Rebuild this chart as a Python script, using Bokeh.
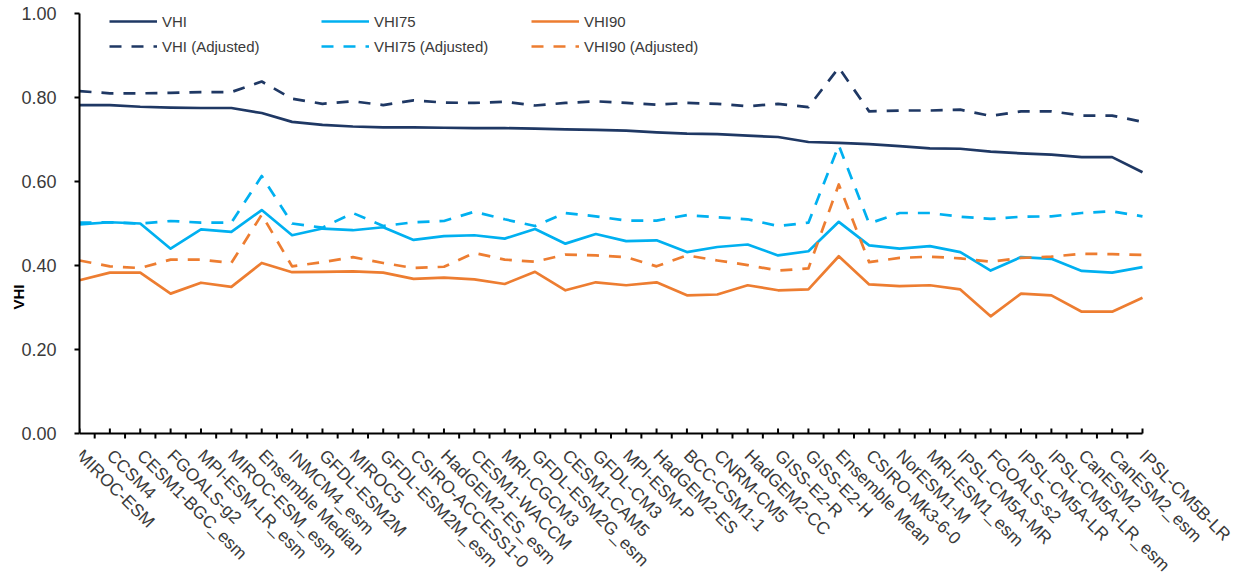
from bokeh.plotting import figure
from bokeh.models import (Range1d, FixedTicker, NumeralTickFormatter, Legend,
                          LegendItem, ColumnDataSource)
from bokeh.core.properties import value
from bokeh.embed import file_html
from bokeh.resources import INLINE
import math

models = ["MIROC-ESM", "CCSM4", "CESM1-BGC_esm", "FGOALS-g2", "MPI-ESM-LR_esm",
          "MIROC-ESM_esm", "Ensemble Median", "INMCM4_esm", "GFDL-ESM2M", "MIROC5",
          "GFDL-ESM2M_esm", "CSIRO-ACCESS1-0", "HadGEM2-ES_esm", "CESM1-WACCM",
          "MRI-CGCM3", "GFDL-ESM2G_esm", "CESM1-CAM5", "GFDL-CM3", "MPI-ESM-P",
          "HadGEM2-ES", "BCC-CSM1-1", "CNRM-CM5", "HadGEM2-CC", "GISS-E2-R",
          "GISS-E2-H", "Ensemble Mean", "CSIRO-Mk3-6-0", "NorESM1-M", "MRI-ESM1_esm",
          "IPSL-CM5A-MR", "FGOALS-s2", "IPSL-CM5A-LR", "IPSL-CM5A-LR_esm", "CanESM2",
          "CanESM2_esm", "IPSL-CM5B-LR"]

vhi = [0.782, 0.782, 0.778, 0.776, 0.775, 0.775, 0.763, 0.742, 0.735, 0.731,
       0.729, 0.729, 0.728, 0.727, 0.727, 0.726, 0.724, 0.723, 0.721, 0.717,
       0.714, 0.713, 0.709, 0.706, 0.694, 0.692, 0.689, 0.684, 0.679, 0.678,
       0.671, 0.667, 0.664, 0.658, 0.658, 0.622]
vhi_adj = [0.815, 0.810, 0.810, 0.811, 0.813, 0.813, 0.838, 0.797, 0.785, 0.791,
           0.782, 0.793, 0.788, 0.787, 0.790, 0.781, 0.787, 0.791, 0.787, 0.783,
           0.787, 0.785, 0.779, 0.785, 0.777, 0.871, 0.767, 0.769, 0.769, 0.771,
           0.756, 0.767, 0.767, 0.757, 0.757, 0.742]
vhi75 = [0.498, 0.503, 0.500, 0.440, 0.486, 0.480, 0.532, 0.472, 0.488, 0.484,
         0.491, 0.461, 0.470, 0.472, 0.464, 0.487, 0.452, 0.475, 0.458, 0.460,
         0.432, 0.444, 0.450, 0.424, 0.434, 0.504, 0.448, 0.440, 0.446, 0.432,
         0.388, 0.420, 0.416, 0.387, 0.383, 0.396]
vhi75_adj = [0.502, 0.503, 0.500, 0.506, 0.502, 0.502, 0.613, 0.500, 0.490, 0.525,
             0.494, 0.503, 0.506, 0.528, 0.510, 0.494, 0.525, 0.517, 0.507, 0.507,
             0.520, 0.515, 0.510, 0.494, 0.502, 0.686, 0.500, 0.525, 0.525, 0.516,
             0.511, 0.516, 0.517, 0.525, 0.529, 0.517]
vhi90 = [0.365, 0.383, 0.383, 0.333, 0.359, 0.349, 0.406, 0.384, 0.385, 0.386,
         0.383, 0.368, 0.371, 0.367, 0.356, 0.385, 0.341, 0.360, 0.353, 0.360,
         0.329, 0.331, 0.353, 0.341, 0.343, 0.422, 0.355, 0.351, 0.353, 0.343,
         0.279, 0.333, 0.329, 0.290, 0.290, 0.323]
vhi90_adj = [0.412, 0.398, 0.394, 0.414, 0.414, 0.406, 0.521, 0.398, 0.408, 0.420,
             0.406, 0.394, 0.397, 0.430, 0.414, 0.409, 0.426, 0.424, 0.420, 0.398,
             0.424, 0.412, 0.401, 0.388, 0.393, 0.593, 0.408, 0.418, 0.421, 0.417,
             0.409, 0.418, 0.421, 0.428, 0.427, 0.425]
y_ticks = [0.0, 0.2, 0.4, 0.6, 0.8, 1.0]

NAVY = "#1F3864"
BLUE = "#00B0F0"
ORANGE = "#ED7D31"
TXT = "#3a3a3a"
FONT = "Liberation Sans"

n = len(models)
xs = list(range(n))

FIG_W, FIG_H = 1240, 580
LEFT, TOP = 79, 13
FRAME_W = FIG_W - LEFT          # drawing area runs to the right edge (room for labels)
FRAME_H = FIG_H - TOP           # and to the bottom edge (room for rotated labels)
PX_PER_UNIT_Y = 420             # 0..1 of VHI spans 420 px
PX_PER_CAT = 1063 / (n - 1)     # category spacing in px
y_lo = 1 - FRAME_H / PX_PER_UNIT_Y
x_hi = FRAME_W / PX_PER_CAT

p = figure(width=FIG_W, height=FIG_H, output_backend="svg", toolbar_location=None,
           x_range=Range1d(0, x_hi), y_range=Range1d(y_lo, 1),
           x_axis_location=None,
           min_border_left=LEFT, min_border_right=0, min_border_top=TOP,
           min_border_bottom=0)
p.outline_line_color = None
p.xgrid.visible = False
p.ygrid.visible = False

series = [
    ("VHI", vhi, NAVY, "solid"),
    ("VHI (Adjusted)", vhi_adj, NAVY, "12 10"),
    ("VHI75", vhi75, BLUE, "solid"),
    ("VHI75 (Adjusted)", vhi75_adj, BLUE, "12 10"),
    ("VHI90", vhi90, ORANGE, "solid"),
    ("VHI90 (Adjusted)", vhi90_adj, ORANGE, "12 10"),
]
rends = {}
for name, vals, col, dash in series:
    r = p.line(xs, vals, line_color=col, line_width=2.7, line_dash=dash,
               line_join="round")
    rends[name] = r

# category axis at VHI = 0: line, ticks and rotated labels
p.segment(x0=[xs[0]], y0=[0], x1=[xs[-1]], y1=[0], line_color="black",
          line_width=2)
p.ray(x=xs, y=[0] * n, length=5, length_units="screen", angle=math.pi / 2,
      line_color="black", line_width=2)
p.ray(x=[i + 0.5 for i in xs[:-1]], y=[0] * (n - 1), length=5,
      length_units="screen", angle=-math.pi / 2, line_color="black", line_width=2)
lab_src = ColumnDataSource(dict(x=xs, y=[0] * n, text=models))
p.text(x="x", y="y", text="text", source=lab_src, angle=-math.pi / 4,
       text_align="left", text_baseline="middle", x_offset=0, y_offset=19,
       text_font=value(FONT), text_font_size="17.5px", text_color=TXT)

ya = p.yaxis[0]
ya.bounds = (0, 1)
ya.ticker = FixedTicker(ticks=y_ticks, minor_ticks=[])
ya.formatter = NumeralTickFormatter(format="0.00")
ya.major_label_text_font = FONT
ya.major_label_text_font_size = "18px"
ya.major_label_text_color = TXT
ya.major_tick_in = 0
ya.major_tick_out = 5
ya.major_tick_line_width = 2
ya.axis_line_width = 2
ya.axis_line_color = "black"
ya.major_label_standoff = 18
ya.axis_label = "VHI"
ya.axis_label_text_font = FONT
ya.axis_label_text_font_style = "bold"
ya.axis_label_text_font_size = "15px"
ya.axis_label_text_color = "black"
ya.axis_label_standoff = -9

cols = [("VHI", "VHI (Adjusted)"), ("VHI75", "VHI75 (Adjusted)"),
        ("VHI90", "VHI90 (Adjusted)")]
xpos = [30, 242, 452]
leg_bottom = FRAME_H - 43
for (a, b), lx in zip(cols, xpos):
    lg = Legend(items=[LegendItem(label=a, renderers=[rends[a]]),
                       LegendItem(label=b, renderers=[rends[b]])],
                location=(lx, leg_bottom), orientation="vertical",
                glyph_width=48, glyph_height=20, label_height=20,
                label_standoff=5, spacing=5, padding=0, margin=0,
                border_line_color=None, background_fill_alpha=0,
                label_text_font=FONT, label_text_font_size="15px",
                label_text_color=TXT)
    p.add_layout(lg, "center")

open("out.html", "w").write(file_html(p, INLINE))
